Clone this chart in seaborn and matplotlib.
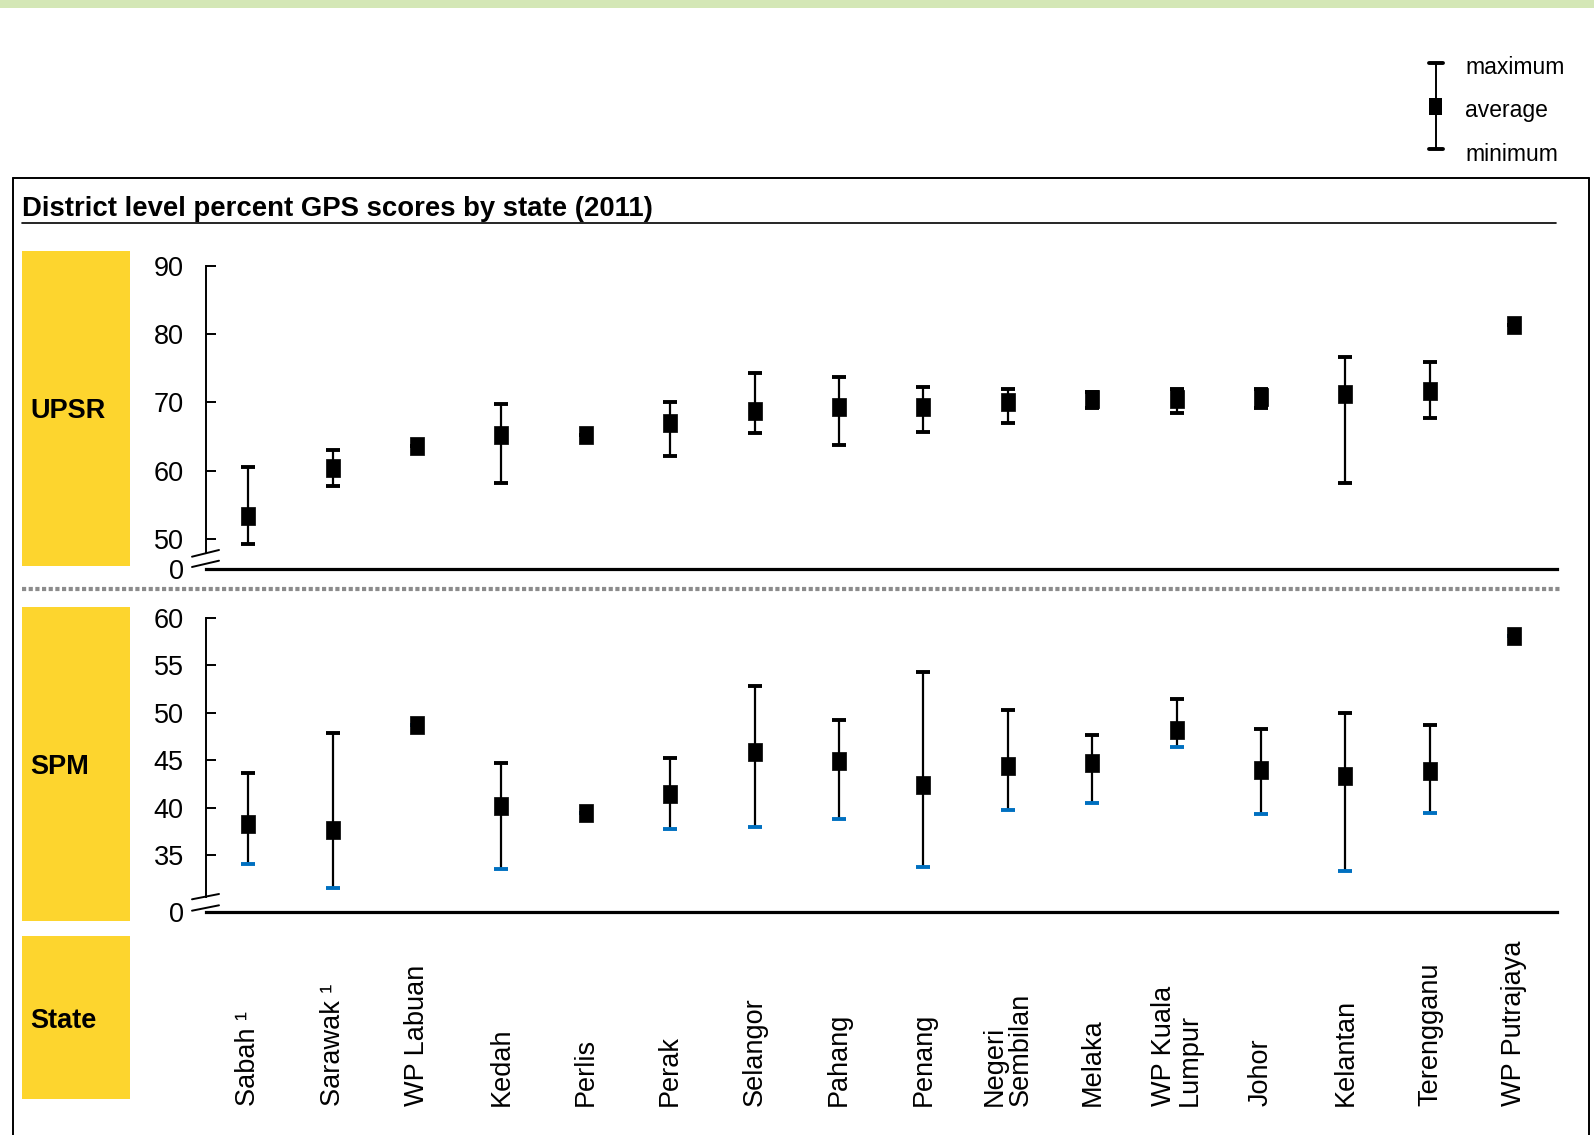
import numpy as np
import pandas as pd
import matplotlib.pyplot as plt
import matplotlib.transforms as mtransforms
import seaborn as sns
from matplotlib.lines import Line2D
from matplotlib.patches import Rectangle

states = ["Sabah \u00b9", "Sarawak \u00b9", "WP Labuan", "Kedah", "Perlis", "Perak",
          "Selangor", "Pahang", "Penang", "Negeri\nSembilan", "Melaka",
          "WP Kuala\nLumpur", "Johor", "Kelantan", "Terengganu", "WP Putrajaya"]

upsr_avg = [53.4, 60.4, 63.6, 65.3, 65.3, 67.0, 68.8, 69.3, 69.3, 70.0, 70.5, 70.5, 70.8, 71.2, 71.7, 81.3]
upsr_max = [60.5, 63.0, 63.6, 69.8, 65.3, 70.0, 74.3, 73.8, 72.3, 72.0, 71.6, 72.0, 72.0, 76.6, 76.0, 81.3]
upsr_min = [49.2, 57.7, 63.6, 58.2, 65.3, 62.2, 65.5, 63.7, 65.7, 67.0, 69.2, 68.5, 69.2, 58.2, 67.7, 81.3]

spm_avg = [38.3, 37.6, 48.7, 40.2, 39.4, 41.4, 45.8, 44.9, 42.4, 44.4, 44.7, 48.2, 44.0, 43.3, 43.8, 58.1]
spm_max = [43.6, 47.8, 48.7, 44.7, 39.4, 45.2, 52.8, 49.2, 54.3, 50.3, 47.6, 51.4, 48.3, 50.0, 48.7, 58.1]
spm_min = [34.1, 31.5, 48.7, 33.5, 39.4, 37.7, 38.0, 38.8, 33.7, 39.7, 40.5, 46.4, 39.3, 33.3, 39.4, 58.1]

upsr_ticks = [50, 60, 70, 80, 90]
spm_ticks = [35, 40, 45, 50, 55, 60]

YELLOW = "#FDD52E"
BLUE = "#0070C0"
W, H = 1594, 1135

sns.set_theme(style="white")
plt.rcParams["font.family"] = ["Liberation Sans", "DejaVu Sans"]
plt.rcParams["text.color"] = "black"
plt.rcParams["ytick.color"] = "black"

fig = plt.figure(figsize=(W / 100, H / 100), dpi=100)


def fx(px):
    return px / W


def fy(py):
    return 1 - py / H


# tall rectangle marker for the averages
rect_marker = [(-0.78, -1), (0.78, -1), (0.78, 1), (-0.78, 1), (-0.78, -1)]


def draw_panel(ax, avg, mx, mn, lo, top, ticks, min_color, spine_lo):
    df = pd.DataFrame({"pos": np.arange(len(states)), "avg": avg, "max": mx, "min": mn})
    ax.vlines(df["pos"], df["min"], df["max"], color="black", lw=1.6, zorder=2)
    ax.plot(df["pos"], df["max"], ls="none", marker="_", ms=10, mew=2.8, color="black", zorder=2)
    ax.plot(df["pos"], df["min"], ls="none", marker="_", ms=10, mew=2.8, color=min_color, zorder=2)
    sns.scatterplot(data=df, x="pos", y="avg", marker=rect_marker, s=150, color="black",
                    edgecolor="black", linewidth=0.5, ax=ax, zorder=3, legend=False)
    ax.set_xlim(-0.5, len(states) - 0.5)
    ax.set_ylim(lo, top)
    ax.set_yticks([lo] + ticks)
    ax.set_yticklabels(["0"] + [str(t) for t in ticks])
    ax.set_xticks([])
    ax.set_xlabel("")
    ax.set_ylabel("")
    for s in ["top", "right"]:
        ax.spines[s].set_visible(False)
    ax.spines["left"].set_bounds(spine_lo, top)
    ax.spines["left"].set_linewidth(1.4)
    ax.spines["left"].set_color("black")
    ax.spines["bottom"].set_linewidth(2.3)
    ax.spines["bottom"].set_color("black")
    ax.tick_params(axis="y", direction="in", length=7, width=1.4, pad=16,
                   labelsize=19.5, colors="black", left=True)
    ax.patch.set_alpha(0)


# UPSR panel
ax1 = fig.add_axes([fx(206), fy(569.3), fx(1556.5) - fx(206), fy(266) - fy(569.3)])
draw_panel(ax1, upsr_avg, upsr_max, upsr_min, 45.56, 90, upsr_ticks, "black", 47.9)

# SPM panel
ax2 = fig.add_axes([fx(206), fy(912.3), fx(1556.5) - fx(206), fy(617.7) - fy(912.3)])
draw_panel(ax2, spm_avg, spm_max, spm_min, 28.96, 60, spm_ticks, BLUE, 30.6)

# axis break marks
for (ya, yb) in [((556.7, 550), (567, 560.7)), ((899.3, 894), (910.7, 905.3))]:
    for (y0, y1) in (ya, yb):
        fig.add_artist(Line2D([fx(192), fx(219)], [fy(y0), fy(y1)], color="black", lw=1.4))

# category labels
lab_tr = mtransforms.blended_transform_factory(ax2.transData, fig.transFigure)
for i, name in enumerate(states):
    ax2.text(i, fy(1106), name, transform=lab_tr,
             rotation=90, ha="center", va="bottom", multialignment="left",
             fontsize=19.5, linespacing=1.0, color="black")

# top green band
fig.add_artist(Rectangle((0, fy(7.5)), 1, fy(0) - fy(7.5), transform=fig.transFigure,
                         facecolor="#D4E7B6", edgecolor="none"))

# outer frame
frame_kw = dict(color="black", lw=1.4, transform=fig.transFigure)
fig.add_artist(Line2D([fx(13), fx(1589)], [fy(178), fy(178)], **frame_kw))
fig.add_artist(Line2D([fx(13), fx(13)], [fy(178), 0], **frame_kw))
fig.add_artist(Line2D([fx(1589), fx(1589)], [fy(178), 0], **frame_kw))

# title + underline
fig.text(fx(22), fy(208.5), "District level percent GPS scores by state (2011)",
         fontsize=19.8, fontweight="bold", ha="left", va="center", color="black")
fig.add_artist(Line2D([fx(22), fx(1556)], [fy(223), fy(223)], color="black", lw=1.2))

# dotted separator
fig.add_artist(Line2D([fx(22), fx(1562)], [fy(589), fy(589)], color="#8C8C8C", lw=3,
                      linestyle=(0, (1, 0.6))))

# yellow side boxes
for (top, bot, label) in [(251, 565.5, "UPSR"), (607, 920.5, "SPM"), (936, 1099, "State")]:
    fig.add_artist(Rectangle((fx(22), fy(bot)), fx(130) - fx(22), fy(top) - fy(bot),
                             transform=fig.transFigure, facecolor=YELLOW, edgecolor="none"))
    fig.text(fx(30), fy((top + bot) / 2 + 3), label, fontsize=19.5, fontweight="bold",
             ha="left", va="center", color="black")

# legend
lx = 1435.5
fig.add_artist(Line2D([fx(lx), fx(lx)], [fy(63), fy(149.4)], color="black", lw=1.4))
for yy in (63, 149.4):
    fig.add_artist(Line2D([fx(lx - 7), fx(lx + 7)], [fy(yy), fy(yy)], color="black", lw=2.8))
fig.add_artist(Rectangle((fx(lx - 6.5), fy(115)), fx(13), fy(0) - fy(17), transform=fig.transFigure,
                         facecolor="black", edgecolor="none"))
for yy, txt in [(67, "maximum"), (110.5, "average"), (154.5, "minimum")]:
    fig.text(fx(1465), fy(yy), txt, fontsize=16.5, ha="left", va="center", color="black")

fig.savefig("out.png", dpi=100)
